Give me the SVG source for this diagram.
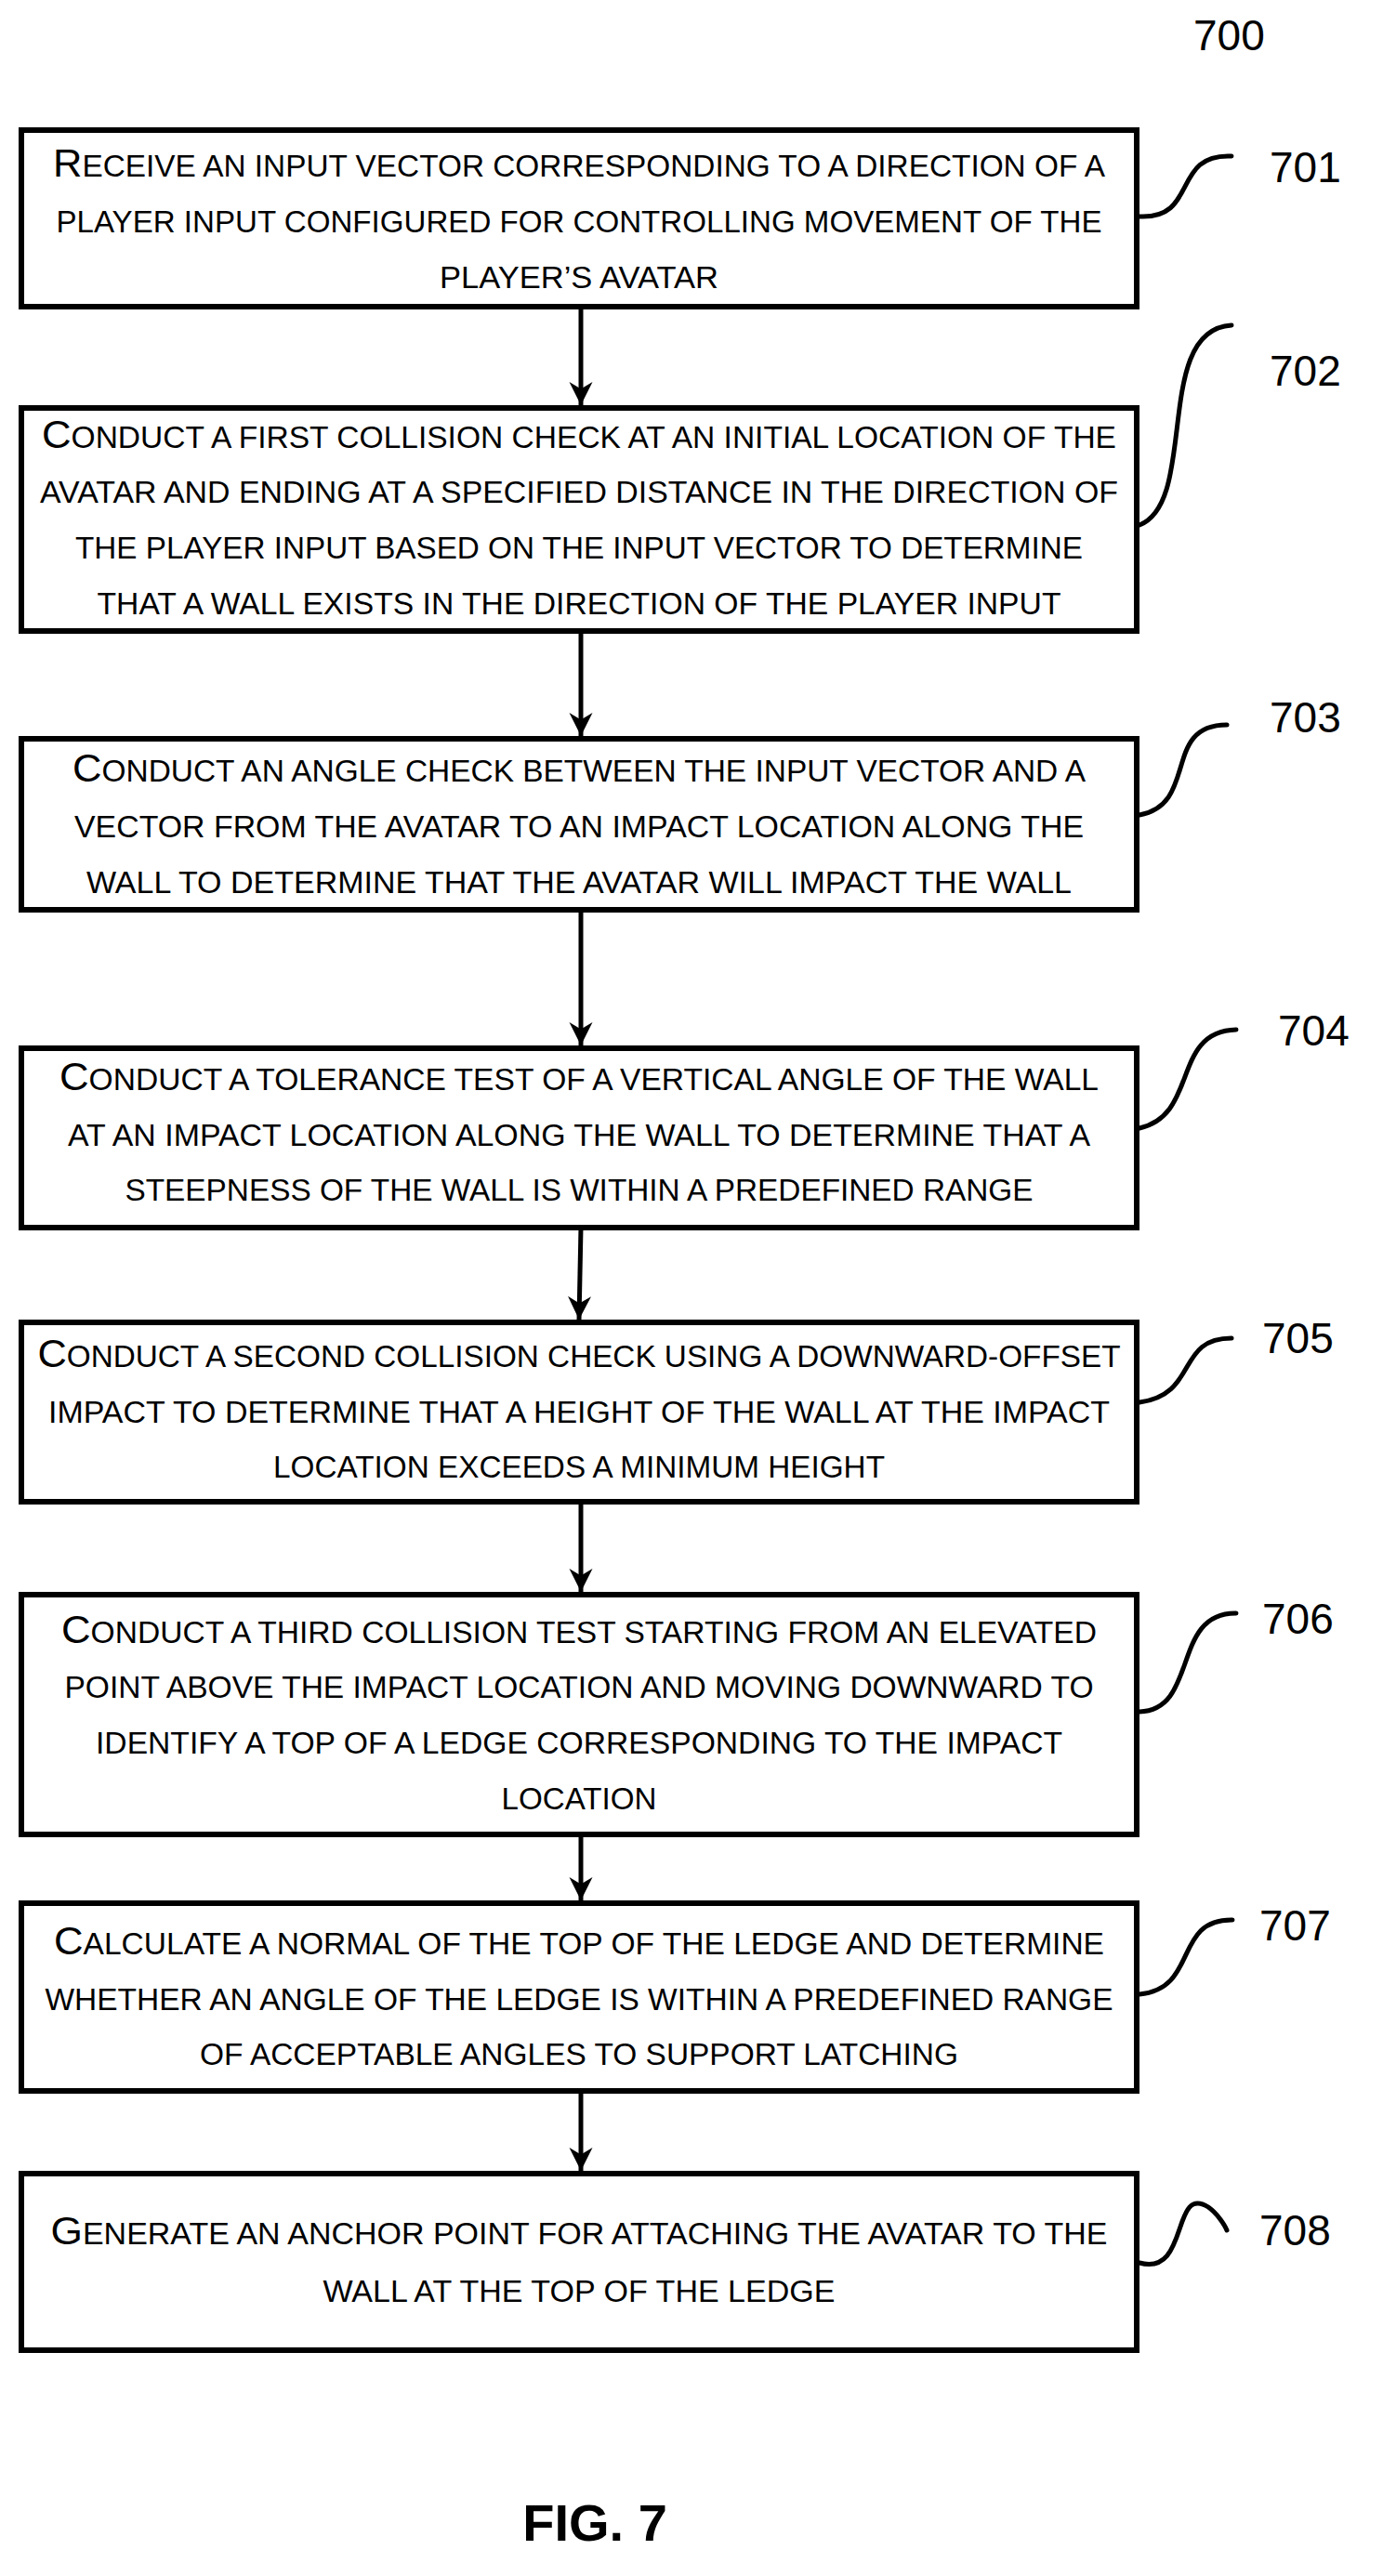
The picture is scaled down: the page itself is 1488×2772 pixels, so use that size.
<svg xmlns="http://www.w3.org/2000/svg" width="1488" height="2772" viewBox="0 0 1488 2772">
<defs>
<style>
.box{fill:#fff;stroke:#000;stroke-width:6}
.t{font-family:"Liberation Sans",Arial,sans-serif;font-size:33px;fill:#000;text-anchor:middle}
.b{font-size:43px}
.ref{font-family:"Liberation Sans",Arial,sans-serif;font-size:46px;fill:#000}
.sq{fill:none;stroke:#000;stroke-width:5;stroke-linecap:round}
.ar{stroke:#000;stroke-width:5;fill:none}
</style>
<marker id="ah" viewBox="0 0 10 10" refX="10" refY="5" markerWidth="5" markerHeight="6" markerUnits="strokeWidth" orient="auto"><path d="M0,0 L10,5 L0,10 L3,5 Z" fill="#000"/></marker>
</defs>
<rect width="1488" height="2772" fill="#fff"/>
<text class="ref" x="1284" y="54">700</text>
<g id="connectors">
<line class="ar" x1="625" y1="330" x2="625" y2="436" marker-end="url(#ah)"/>
<line class="ar" x1="625" y1="679" x2="625" y2="792" marker-end="url(#ah)"/>
<line class="ar" x1="625" y1="979" x2="625" y2="1125" marker-end="url(#ah)"/>
<line class="ar" x1="625" y1="1321" x2="623" y2="1420" marker-end="url(#ah)"/>
<line class="ar" x1="625" y1="1616" x2="625" y2="1713" marker-end="url(#ah)"/>
<line class="ar" x1="625" y1="1974" x2="625" y2="2045" marker-end="url(#ah)"/>
<line class="ar" x1="625" y1="2250" x2="625" y2="2336" marker-end="url(#ah)"/>
<path class="sq" d="M1226,233 C1290,236 1260,165 1325,168"/>
<path class="sq" d="M1226,565 C1290,540 1240,355 1325,350"/>
<path class="sq" d="M1226,877 C1290,865 1250,780 1320,780"/>
<path class="sq" d="M1226,1214 C1290,1200 1260,1110 1330,1108"/>
<path class="sq" d="M1226,1509 C1290,1500 1265,1440 1325,1440"/>
<path class="sq" d="M1226,1842 C1290,1840 1260,1735 1330,1736"/>
<path class="sq" d="M1226,2146 C1290,2140 1262,2065 1326,2066"/>
<path class="sq" d="M1226,2435 C1280,2450 1260,2350 1300,2375 C1310,2382 1318,2395 1320,2400"/>
</g>
<g id="n701"><rect class="box" x="23" y="140" width="1200" height="190"/>
<text class="t" x="623" y="190" textLength="1132" lengthAdjust="spacingAndGlyphs"><tspan class="b">R</tspan>ECEIVE AN INPUT VECTOR CORRESPONDING TO A DIRECTION OF A</text>
<text class="t" x="623" y="250" textLength="1125" lengthAdjust="spacingAndGlyphs">PLAYER INPUT CONFIGURED FOR CONTROLLING MOVEMENT OF THE</text>
<text class="t" x="623" y="310" textLength="300" lengthAdjust="spacingAndGlyphs">PLAYER’S AVATAR</text>
<text class="ref" x="1366" y="196">701</text></g>
<g id="n702"><rect class="box" x="23" y="439" width="1200" height="240"/>
<text class="t" x="623" y="482" textLength="1156" lengthAdjust="spacingAndGlyphs"><tspan class="b">C</tspan>ONDUCT A FIRST COLLISION CHECK AT AN INITIAL LOCATION OF THE</text>
<text class="t" x="623" y="541" textLength="1160" lengthAdjust="spacingAndGlyphs">AVATAR AND ENDING AT A SPECIFIED DISTANCE IN THE DIRECTION OF</text>
<text class="t" x="623" y="601" textLength="1084" lengthAdjust="spacingAndGlyphs">THE PLAYER INPUT BASED ON THE INPUT VECTOR TO DETERMINE</text>
<text class="t" x="623" y="661" textLength="1037" lengthAdjust="spacingAndGlyphs">THAT A WALL EXISTS IN THE DIRECTION OF THE PLAYER INPUT</text>
<text class="ref" x="1366" y="415">702</text></g>
<g id="n703"><rect class="box" x="23" y="795" width="1200" height="184"/>
<text class="t" x="623" y="841" textLength="1090" lengthAdjust="spacingAndGlyphs"><tspan class="b">C</tspan>ONDUCT AN ANGLE CHECK BETWEEN THE INPUT VECTOR AND A</text>
<text class="t" x="623" y="901" textLength="1086" lengthAdjust="spacingAndGlyphs">VECTOR FROM THE AVATAR TO AN IMPACT LOCATION ALONG THE</text>
<text class="t" x="623" y="961" textLength="1060" lengthAdjust="spacingAndGlyphs">WALL TO DETERMINE THAT THE AVATAR WILL IMPACT THE WALL</text>
<text class="ref" x="1366" y="788">703</text></g>
<g id="n704"><rect class="box" x="23" y="1128" width="1200" height="193"/>
<text class="t" x="623" y="1173" textLength="1118" lengthAdjust="spacingAndGlyphs"><tspan class="b">C</tspan>ONDUCT A TOLERANCE TEST OF A VERTICAL ANGLE OF THE WALL</text>
<text class="t" x="623" y="1233" textLength="1100" lengthAdjust="spacingAndGlyphs">AT AN IMPACT LOCATION ALONG THE WALL TO DETERMINE THAT A</text>
<text class="t" x="623" y="1292" textLength="977" lengthAdjust="spacingAndGlyphs">STEEPNESS OF THE WALL IS WITHIN A PREDEFINED RANGE</text>
<text class="ref" x="1375" y="1125">704</text></g>
<g id="n705"><rect class="box" x="23" y="1423" width="1200" height="193"/>
<text class="t" x="623" y="1471" textLength="1165" lengthAdjust="spacingAndGlyphs"><tspan class="b">C</tspan>ONDUCT A SECOND COLLISION CHECK USING A DOWNWARD-OFFSET</text>
<text class="t" x="623" y="1531" textLength="1142" lengthAdjust="spacingAndGlyphs">IMPACT TO DETERMINE THAT A HEIGHT OF THE WALL AT THE IMPACT</text>
<text class="t" x="623" y="1590" textLength="658" lengthAdjust="spacingAndGlyphs">LOCATION EXCEEDS A MINIMUM HEIGHT</text>
<text class="ref" x="1358" y="1456">705</text></g>
<g id="n706"><rect class="box" x="23" y="1716" width="1200" height="258"/>
<text class="t" x="623" y="1768" textLength="1114" lengthAdjust="spacingAndGlyphs"><tspan class="b">C</tspan>ONDUCT A THIRD COLLISION TEST STARTING FROM AN ELEVATED</text>
<text class="t" x="623" y="1827" textLength="1107" lengthAdjust="spacingAndGlyphs">POINT ABOVE THE IMPACT LOCATION AND MOVING DOWNWARD TO</text>
<text class="t" x="623" y="1887" textLength="1040" lengthAdjust="spacingAndGlyphs">IDENTIFY A TOP OF A LEDGE CORRESPONDING TO THE IMPACT</text>
<text class="t" x="623" y="1947" textLength="167" lengthAdjust="spacingAndGlyphs">LOCATION</text>
<text class="ref" x="1358" y="1758">706</text></g>
<g id="n707"><rect class="box" x="23" y="2048" width="1200" height="202"/>
<text class="t" x="623" y="2103" textLength="1130" lengthAdjust="spacingAndGlyphs"><tspan class="b">C</tspan>ALCULATE A NORMAL OF THE TOP OF THE LEDGE AND DETERMINE</text>
<text class="t" x="623" y="2163" textLength="1149" lengthAdjust="spacingAndGlyphs">WHETHER AN ANGLE OF THE LEDGE IS WITHIN A PREDEFINED RANGE</text>
<text class="t" x="623" y="2222" textLength="816" lengthAdjust="spacingAndGlyphs">OF ACCEPTABLE ANGLES TO SUPPORT LATCHING</text>
<text class="ref" x="1355" y="2088">707</text></g>
<g id="n708"><rect class="box" x="23" y="2339" width="1200" height="190"/>
<text class="t" x="623" y="2415" textLength="1137" lengthAdjust="spacingAndGlyphs"><tspan class="b">G</tspan>ENERATE AN ANCHOR POINT FOR ATTACHING THE AVATAR TO THE</text>
<text class="t" x="623" y="2477" textLength="551" lengthAdjust="spacingAndGlyphs">WALL AT THE TOP OF THE LEDGE</text>
<text class="ref" x="1355" y="2416">708</text></g>
<text x="640" y="2734" font-family="Liberation Sans,Arial,sans-serif" font-weight="bold" font-size="56" text-anchor="middle">FIG. 7</text>
</svg>
